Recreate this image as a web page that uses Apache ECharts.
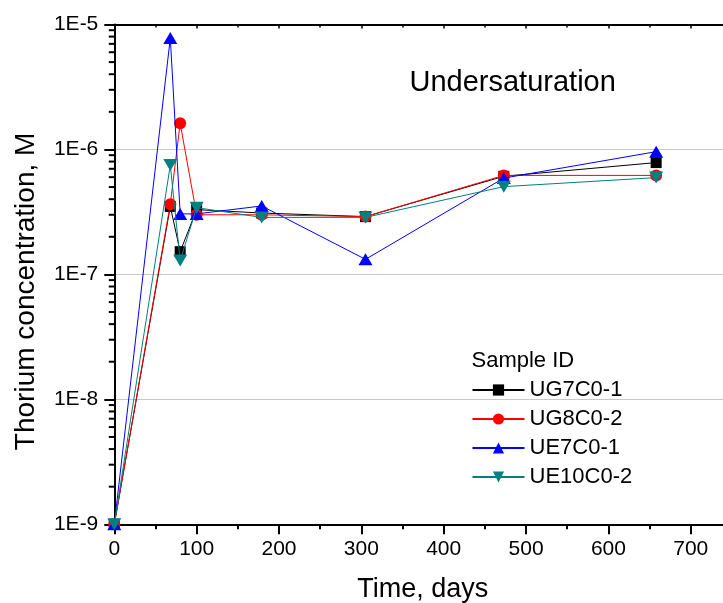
<!DOCTYPE html>
<html><head><meta charset="utf-8">
<script src="https://cdn.jsdelivr.net/npm/echarts@6/dist/echarts.min.js"></script>
<style>html,body{margin:0;padding:0;background:#fff}#c{width:723px;height:603px}</style>
</head><body><div id="c"></div>
<script>
// ---- data ----
const days = [0, 68, 80, 100, 179, 305, 473, 658];
const seriesNames = ['UG7C0-1', 'UG8C0-2', 'UE7C0-1', 'UE10C0-2'];
const ug7c0_1  = [1e-9, 3.5e-7, 1.52e-7, 3.3e-7, 3.1e-7, 2.9e-7, 6.1e-7, 7.85e-7];
const ug8c0_2  = [1e-9, 3.65e-7, 1.62e-6, 3.0e-7, 3.0e-7, 2.9e-7, 6.2e-7, 6.2e-7];
const ue7c0_1  = [1e-9, 7.8e-6, 3.05e-7, 3.05e-7, 3.53e-7, 1.32e-7, 5.9e-7, 9.6e-7];
const ue10c0_2 = [1e-9, 7.5e-7, 1.29e-7, 3.42e-7, 2.86e-7, 2.86e-7, 5.04e-7, 5.95e-7];
const xTickLabels = ['0', '100', '200', '300', '400', '500', '600', '700'];
const yTickLabels = ['1E-9', '1E-8', '1E-7', '1E-6', '1E-5'];
const xTitle = 'Time, days';
const yTitle = 'Thorium concentration, M';
const noteText = 'Undersaturation';
const legendTitle = 'Sample ID';

// minor tick positions of the log axis (2..9 within each decade)
const yMinor = [];
for (let e = -9; e < -5; e++) for (let m = 2; m <= 9; m++) yMinor.push([0, m * Math.pow(10, e)]);

const FONT = '"Liberation Sans", Arial, sans-serif';
const colors = ['#000000', '#ff0000', '#0000ff', '#008080'];
const symbols = ['rect', 'circle', 'triangle', 'path://M0,0 L10,0 L5,9 Z'];
const symSizes = [11, 12, [14, 12], [14, 12]];
const values = [ug7c0_1, ug8c0_2, ue7c0_1, ue10c0_2];

const chart = echarts.init(document.getElementById('c'), null, {renderer: 'canvas'});

const lineSeries = seriesNames.map((n, i) => ({
  name: n,
  type: 'line',
  xAxisIndex: 0, yAxisIndex: 0,
  data: days.map((d, j) => [d, values[i][j]]),
  symbol: symbols[i],
  symbolSize: symSizes[i],
  showAllSymbol: true,
  clip: false,
  color: colors[i],
  itemStyle: {color: colors[i], borderWidth: 0},
  lineStyle: {color: colors[i], width: 1},
  emphasis: {disabled: true},
  animation: false,
  z: 3 + i
}));

const axisLine = {show: true, lineStyle: {color: '#000', width: 2}};

chart.setOption({
  animation: false,
  backgroundColor: '#fff',
  textStyle: {fontFamily: FONT},
  title: [
    {text: noteText, left: 409.5, top: 68.5, padding: 0,
     textStyle: {fontFamily: FONT, fontSize: 29, fontWeight: 'normal', color: '#000'}},
    {text: legendTitle, left: 471.5, top: 350, padding: 0,
     textStyle: {fontFamily: FONT, fontSize: 22, fontWeight: 'normal', color: '#000'}}
  ],
  legend: {
    data: seriesNames,
    orient: 'vertical',
    left: 471.5, top: 379, padding: 0,
    itemWidth: 52, itemHeight: 14, itemGap: 7,
    textStyle: {fontFamily: FONT, fontSize: 22, color: '#000'},
    selectedMode: false
  },
  grid: {left: 114.3, top: 24.5, width: 658.8, height: 499.8, containLabel: false, outerBoundsMode: 'none'},
  xAxis: [{
    type: 'value', position: 'bottom', min: 0, max: 800, interval: 100,
    name: xTitle, nameLocation: 'middle', nameGap: 52,
    nameTextStyle: {fontFamily: FONT, fontSize: 27, color: '#000', padding: [0, 42, 0, 0]},
    axisLine: axisLine,
    axisTick: {show: true, inside: false, length: 10, lineStyle: {color: '#000', width: 2}},
    minorTick: {show: true, splitNumber: 2, length: 5, lineStyle: {color: '#000', width: 2}},
    axisLabel: {show: true, margin: 14, fontFamily: FONT, fontSize: 21, color: '#000',
      formatter: v => { const k = Math.round(v / 100); return (v % 100 === 0 && k < xTickLabels.length) ? xTickLabels[k] : ''; }},
    splitLine: {show: false}
  }, {
    type: 'value', position: 'top', min: 0, max: 800, interval: 100,
    axisLine: axisLine,
    axisTick: {show: true, inside: true, length: 4, lineStyle: {color: '#000', width: 1.5}},
    minorTick: {show: true, splitNumber: 2, length: 3, lineStyle: {color: '#000', width: 1.5}},
    axisLabel: {show: false},
    splitLine: {show: false}
  }],
  yAxis: [{
    type: 'log', logBase: 10, min: 1e-9, max: 1e-5, splitNumber: 4,
    name: yTitle, nameLocation: 'middle', nameGap: 74, nameRotate: 90,
    nameTextStyle: {fontFamily: FONT, fontSize: 28, color: '#000', padding: [0, 34, 0, 0]},
    axisLine: axisLine,
    axisTick: {show: true, inside: false, length: 10, lineStyle: {color: '#000', width: 2}},
    axisLabel: {show: true, margin: 16, fontFamily: FONT, fontSize: 21, color: '#000',
      formatter: v => { const e = Math.round(Math.log10(v)); return yTickLabels[e + 9] || ''; }},
    splitLine: {show: true, lineStyle: {color: '#c8c8c8', width: 1}}
  }],
  series: [{
    type: 'custom',
    name: 'yMinorTicks',
    xAxisIndex: 0, yAxisIndex: 0,
    data: yMinor,
    clip: false,
    silent: true,
    z: 10,
    renderItem: (params, api) => {
      const p = api.coord([0, api.value(1)]);
      return {type: 'line', shape: {x1: p[0] - 5.5, y1: p[1], x2: p[0], y2: p[1]},
              style: {stroke: '#000', lineWidth: 2}};
    }
  }].concat(lineSeries)
});
</script></body></html>
